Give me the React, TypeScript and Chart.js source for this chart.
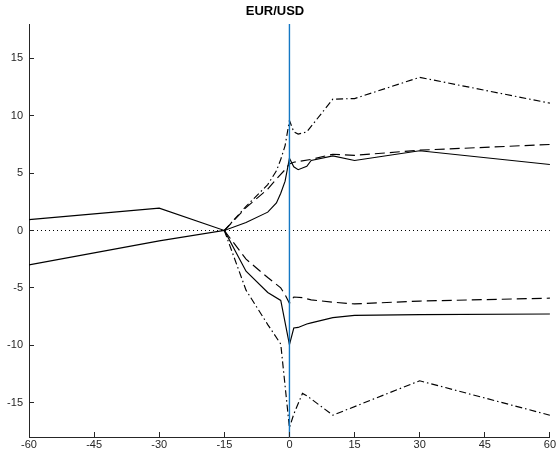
import React, { useEffect, useRef } from "react";
import { Chart, registerables } from "chart.js";

Chart.register(...registerables);

const titleText = "EUR/USD";
const xTicks = [-60, -45, -30, -15, 0, 15, 30, 45, 60];
const yTicks = [-15, -10, -5, 0, 5, 10, 15];

const solidUpperX = [-60, -30, -15, -10, -5, -3, -2, -1, 0, 1, 2, 4, 5, 10, 15, 30, 60];
const solidUpperY = [0.95, 1.95, 0, 0.7, 1.6, 2.4, 3.25, 4.3, 6.3, 5.55, 5.3, 5.6, 6.1, 6.5, 6.1, 6.95, 5.75];

const solidLowerX = [-60, -30, -15, -10, -5, -2, 0, 1, 2, 4, 5, 10, 15, 30, 60];
const solidLowerY = [-3.0, -0.9, 0, -3.55, -5.4, -6.1, -9.95, -8.5, -8.45, -8.15, -8.05, -7.6, -7.4, -7.33, -7.28];

const dashedUpperX = [-15, -10, -5, -3, -1, 0, 1, 5, 10, 15, 30, 60];
const dashedUpperY = [0, 2.0, 3.6, 4.5, 5.3, 5.8, 5.95, 6.2, 6.65, 6.55, 7.0, 7.5];

const dashedLowerX = [-15, -10, -5, -2, -1, 0, 1, 3, 5, 10, 15, 30, 60];
const dashedLowerY = [0, -2.5, -4.1, -5.0, -5.6, -6.35, -5.8, -5.85, -6.05, -6.25, -6.4, -6.15, -5.9];

const dashDotUpperX = [-15, -10, -5, -3, -2, -1, 0, 1, 2, 4, 10, 15, 30, 60];
const dashDotUpperY = [0, 2.1, 4.0, 5.2, 6.2, 7.4, 9.6, 8.6, 8.4, 8.6, 11.45, 11.5, 13.35, 11.1];

const dashDotLowerX = [-15, -10, -5, -2, 0, 1, 3, 4, 10, 30, 60];
const dashDotLowerY = [0, -5.2, -8.2, -9.9, -17.2, -16.0, -14.2, -14.4, -16.1, -13.1, -16.1];

const zeroLineX = [-60, 60];
const zeroLineY = [0, 0];
const eventLineX = [0, 0];
const eventLineY = [-18, 18];

const pts = (xs: number[], ys: number[]) => xs.map((x, i) => ({ x, y: ys[i] }));

const AXIS_COLOR = "#262626";
const FONT = "'Liberation Sans', Arial, Helvetica, sans-serif";

const inwardTicks = {
  id: "inwardTicks",
  afterDraw(chart: any) {
    const { ctx, chartArea, scales } = chart;
    ctx.save();
    ctx.strokeStyle = AXIS_COLOR;
    ctx.lineWidth = 1;
    ctx.setLineDash([]);
    ctx.beginPath();
    for (const v of xTicks) {
      const px = Math.floor(scales.x.getPixelForValue(v)) + 0.5;
      ctx.moveTo(px, chartArea.bottom);
      ctx.lineTo(px, chartArea.bottom - 5);
    }
    for (const v of yTicks) {
      const py = Math.floor(scales.y.getPixelForValue(v)) + 0.5;
      ctx.moveTo(chartArea.left, py);
      ctx.lineTo(chartArea.left + 5, py);
    }
    ctx.stroke();
    ctx.restore();
  },
};

export default function App() {
  const ref = useRef<HTMLCanvasElement | null>(null);
  useEffect(() => {
    if (!ref.current) return;
    const line = (data: any, dash: number[], color = "#000", width = 1.15) => ({
      data,
      borderColor: color,
      backgroundColor: color,
      borderWidth: width,
      borderDash: dash,
      pointRadius: 0,
      showLine: true,
      fill: false,
      tension: 0,
    });
    const chart = new Chart(ref.current, {
      type: "scatter",
      data: {
        datasets: [
          line(pts(eventLineX, eventLineY), [], "#1478C4", 1.4),
          line(pts(solidUpperX, solidUpperY), []),
          line(pts(solidLowerX, solidLowerY), []),
          line(pts(dashedUpperX, dashedUpperY), [10, 5]),
          line(pts(dashedLowerX, dashedLowerY), [10, 5]),
          line(pts(dashDotUpperX, dashDotUpperY), [7, 3, 1.5, 3]),
          line(pts(dashDotLowerX, dashDotLowerY), [7, 3, 1.5, 3]),
          line(pts(zeroLineX, zeroLineY), [1, 3], "#000", 1),
        ] as any,
      },
      options: {
        animation: false,
        responsive: false,
        devicePixelRatio: 1,
        layout: { padding: { left: 0, right: 7, top: 0, bottom: 0 } },
        plugins: {
          legend: { display: false },
          tooltip: { enabled: false },
          title: {
            display: true,
            text: titleText,
            color: "#000",
            font: { family: FONT, size: 13, weight: "bold" },
            padding: { top: 4, bottom: 4.4 },
          },
        },
        scales: {
          x: {
            type: "linear",
            min: -60,
            max: 60,
            afterBuildTicks: (s: any) => {
              s.ticks = xTicks.map((v) => ({ value: v }));
            },
            afterFit: (s: any) => {
              s.height = 15;
            },
            grid: { display: true, drawOnChartArea: false, drawTicks: false },
            border: { display: true, color: AXIS_COLOR, width: 1 },
            ticks: {
              autoSkip: false,
              maxRotation: 0,
              padding: 1,
              color: AXIS_COLOR,
              font: { family: FONT, size: 11 },
            },
          },
          y: {
            type: "linear",
            min: -18,
            max: 18,
            afterBuildTicks: (s: any) => {
              s.ticks = yTicks.map((v) => ({ value: v }));
            },
            afterFit: (s: any) => {
              s.width = 29;
            },
            grid: { display: true, drawOnChartArea: false, drawTicks: false },
            border: { display: true, color: AXIS_COLOR, width: 1 },
            ticks: {
              autoSkip: false,
              padding: 6,
              color: AXIS_COLOR,
              font: { family: FONT, size: 11 },
            },
          },
        },
      } as any,
      plugins: [inwardTicks],
    });
    return () => chart.destroy();
  }, []);
  return (
    <div style={{ position: "absolute", left: 0, top: 0, width: 557, height: 452, background: "#fff" }}>
      <canvas ref={ref} width={557} height={452} style={{ width: 557, height: 452, display: "block" }} />
    </div>
  );
}
